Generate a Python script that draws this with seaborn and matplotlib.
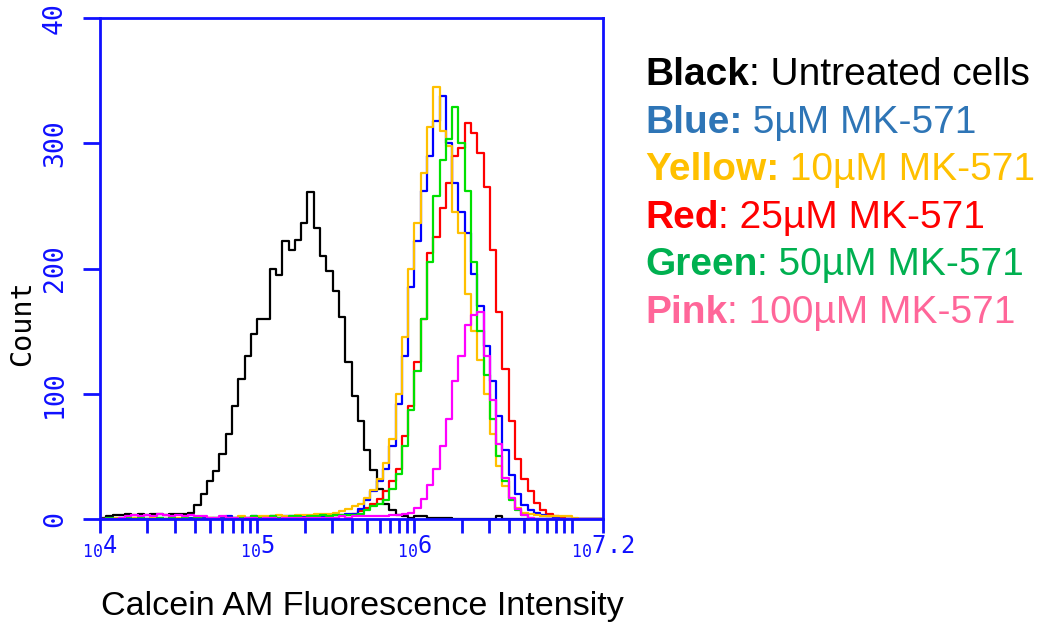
import numpy as np
import pandas as pd
import matplotlib
matplotlib.use("Agg")
import matplotlib.pyplot as plt
import seaborn as sns

# Histogram channels: log10 intensity from 10^4 to 10^7.2, 0.04 decade per channel
log_min, log_max, channel_width = 4.0, 7.2, 0.04
n_channels = 80

# Cell counts per channel for each sample
untreated = [1, 2, 3, 3, 4, 3, 4, 3, 4, 4, 3, 4, 4, 4, 5,
             11, 20, 30, 38, 52, 68, 90, 112, 130, 148, 160, 160, 200, 195, 222,
             215, 223, 236, 261, 232, 210, 198, 182, 161, 125, 98, 78, 55, 39, 24,
             12, 7, 3, 2, 1, 2, 2, 1, 1, 1, 1, 0, 0, 0, 0,
             0, 0, 0, 2, 0, 0, 0, 0, 0, 0, 0, 0, 0, 0, 0, 0, 0, 0, 0, 0]
mk_5uM = [0, 1, 0, 1, 1, 0, 1, 0, 1, 1, 0, 1, 0, 1, 1,
          1, 1, 0, 1, 1, 2, 1, 1, 1, 2, 1, 1, 2, 1, 2,
          2, 1, 2, 2, 3, 2, 3, 3, 3, 4, 4,
          8, 15, 22, 30, 40, 58, 92, 130, 185, 222,
          262, 290, 318, 338, 300, 268, 245, 228, 196, 170,
          138, 110, 82, 55, 35, 20, 11, 7, 5, 3, 2, 1,
          0, 0, 0, 0, 0, 0, 0]
mk_10uM = [0, 0, 1, 0, 0, 1, 0, 0, 1, 0, 0, 0, 1, 0, 0,
           1, 0, 1, 1, 0, 1, 1, 2, 1, 1, 2, 2, 2, 3, 2,
           2, 3, 3, 3, 4, 4, 4, 5, 6, 8, 10,
           12, 17, 23, 32, 45, 64, 100, 145, 200, 236,
           276, 313, 345, 310, 298, 245, 228, 180, 150, 127,
           100, 68, 42, 26, 17, 9, 5, 4, 3, 2, 2, 2, 2, 2, 1,
           0, 0, 0, 0]
mk_25uM = [0, 0, 0, 0, 0, 0, 0, 0, 0, 0, 0, 0, 0, 0, 0,
           0, 0, 1, 0, 0, 1, 0, 1, 0, 0, 1, 1, 0, 1, 1,
           1, 1, 2, 1, 2, 2, 3, 3, 2, 3, 4,
           6, 9, 12, 16, 22, 30, 40, 66, 90, 125,
           160, 212, 225, 248, 268, 290, 296, 316, 308, 292,
           265, 215, 165, 120, 78, 48, 32, 22, 13, 7, 4, 2, 1,
           0, 0, 0, 0, 0, 0]
mk_50uM = [0, 1, 0, 0, 1, 0, 1, 0, 0, 1, 0, 1, 0, 1, 0,
           1, 0, 1, 1, 0, 1, 1, 1, 1, 2, 1, 1, 2, 1, 1,
           2, 2, 1, 2, 2, 3, 2, 3, 3, 3, 3,
           4, 7, 10, 12, 15, 24, 36, 58, 87, 118,
           160, 205, 258, 287, 303, 329, 300, 262, 205, 150,
           115, 80, 50, 30, 15, 7, 3, 1,
           0, 0, 0, 0, 0, 0, 0, 0, 0, 0, 0]
mk_100uM = [0, 0, 0, 1, 2, 3, 2, 3, 2, 4, 3, 2, 3, 2, 3,
            2, 2, 1, 1, 2, 1, 1, 0, 1, 1, 0, 1, 1, 0, 1,
            1, 1, 1, 1, 1, 1, 1, 1, 2, 1, 2, 2, 2, 2, 2,
            2, 3, 3, 4,
            5, 9, 16, 27, 40, 58, 80, 110, 130, 155,
            163, 165, 130, 95, 60, 33, 17, 8, 3, 1,
            0, 0, 0, 0, 0, 0, 0, 0, 0, 0, 0]

samples = ["Untreated", "5µM", "10µM", "25µM", "50µM", "100µM"]
counts = [untreated, mk_5uM, mk_10uM, mk_25uM, mk_50uM, mk_100uM]
line_colors = ["#000000", "#0000FF", "#FFC000", "#FF0000", "#00E000", "#FF00FF"]
draw_order = [0, 3, 1, 2, 4, 5]

x_tick_pos = [4.0, 5.0, 6.0, 7.2]
x_tick_labels = ["${}_{10}$4", "${}_{10}$5", "${}_{10}$6", "${}_{10}$7.2"]
y_tick_pos = [0, 100, 200, 300, 400]
y_tick_labels = ["0", "100", "200", "300", "40"]

legend_lines = [
    ("Black", ": Untreated cells", "#000000"),
    ("Blue:", " 5µM MK-571", "#2E75B6"),
    ("Yellow:", " 10µM MK-571", "#FFC000"),
    ("Red", ": 25µM MK-571", "#FF0000"),
    ("Green", ": 50µM MK-571", "#00B050"),
    ("Pink", ": 100µM MK-571", "#FF6699"),
]

sns.set_style("white")
plt.rcParams["font.family"] = ["DejaVu Sans"]
plt.rcParams["mathtext.fontset"] = "custom"
plt.rcParams["mathtext.rm"] = "DejaVu Sans Mono"
plt.rcParams["mathtext.it"] = "DejaVu Sans Mono"
plt.rcParams["mathtext.bf"] = "DejaVu Sans Mono:bold"

edges = np.round(log_min + channel_width * np.arange(n_channels + 1), 4)
centers = edges[:-1] + channel_width / 2
bin_edges = [float(e) for e in edges]

frames = []
for name, c in zip(samples, counts):
    frames.append(pd.DataFrame({"log_intensity": centers, "count": c, "sample": name}))
df = pd.concat(frames, ignore_index=True)

W, H = 1038, 626
fig = plt.figure(figsize=(W / 100, H / 100), dpi=100)
ax = fig.add_axes([100 / W, 1 - 519 / H, 503 / W, 501 / H])

for i in draw_order:
    sub = df[df["sample"] == samples[i]].reset_index(drop=True)
    sns.histplot(data=sub, x="log_intensity", weights="count", bins=bin_edges,
                 element="step", fill=False, color=line_colors[i],
                 linewidth=1.6, ax=ax)

ax.set_xlim(log_min, log_max)
ax.set_ylim(0, 400)
ax.set_xlabel("")
ax.set_ylabel("")

for side in ["left", "right", "top", "bottom"]:
    ax.spines[side].set_visible(True)
    ax.spines[side].set_color("#1010FF")
    ax.spines[side].set_linewidth(2)

minor_pos = [d + np.log10(k) for d in (4, 5, 6) for k in range(2, 10)] + [7.0]
ax.set_xticks(x_tick_pos)
ax.set_xticklabels(x_tick_labels, fontsize=17, color="#1010FF",
                   family="DejaVu Sans Mono")
ax.set_xticks(minor_pos, minor=True)
ax.tick_params(axis="x", which="both", direction="out", length=10, width=2,
               color="#1010FF", pad=1, bottom=True)

ax.set_yticks(y_tick_pos)
ax.set_yticklabels(y_tick_labels, fontsize=19, color="#1010FF",
                   family="DejaVu Sans Mono", rotation=90, va="center")
ax.tick_params(axis="y", which="major", direction="out", length=12, width=2,
               color="#1010FF", pad=11, left=True)

fig.text(22 / W, 1 - 323 / H, "Count", rotation=90, ha="center", va="center",
         fontsize=20.5, family="DejaVu Sans Mono", color="black")
fig.text(362 / W, 1 - 607 / H, "Calcein AM Fluorescence Intensity",
         ha="center", va="center", fontsize=24.5, family="Liberation Sans",
         color="black")

y0, dy = 85, 47.6
for k, (bold, rest, col) in enumerate(legend_lines):
    yb = 1 - (y0 + k * dy) / H
    t = fig.text(645 / W, yb, bold, ha="left", va="baseline", fontsize=28,
                 family="Liberation Sans", weight="bold", color=col)
    ax.annotate(rest, xy=(1, 0), xycoords=t, ha="left", va="bottom",
                fontsize=28, family="Liberation Sans", color=col,
                annotation_clip=False)

fig.savefig("out.png", dpi=100)
